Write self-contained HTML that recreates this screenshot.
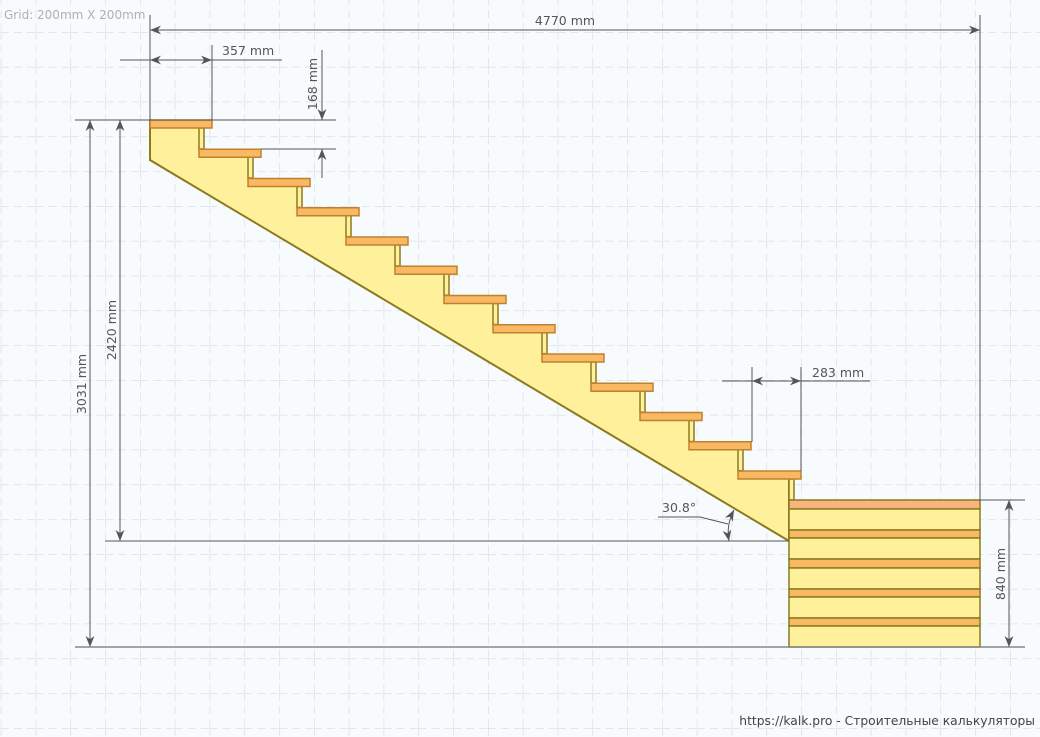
<!DOCTYPE html>
<html><head><meta charset="utf-8"><style>
html,body{margin:0;padding:0;background:#f7fbfe;}
svg{display:block;font-family:"DejaVu Sans","Liberation Sans",sans-serif;}
</style></head><body>
<svg width="1040" height="737" viewBox="0 0 1040 737" xmlns="http://www.w3.org/2000/svg">
<defs>
<pattern id="g" x="0.8" y="-2.8" width="34.8" height="34.8" patternUnits="userSpaceOnUse">
<path d="M0 0V34.8M0 0H34.8" stroke="#d4d9de" stroke-width="1.2" stroke-dasharray="8 5" fill="none"/>
</pattern>
<marker id="a" viewBox="0 0 10 10" refX="10" refY="5" markerWidth="11" markerHeight="11" markerUnits="userSpaceOnUse" orient="auto-start-reverse"><path d="M0 1 L10 5 L0 9 L3 5 Z" fill="#555"/></marker>
</defs>
<rect width="1040" height="737" fill="#f7fbfe"/>
<rect width="1040" height="737" fill="url(#g)"/>
<text x="4" y="19" font-size="12" fill="#b0b0b0">Grid: 200mm X 200mm</text>

<polygon fill="#fff09c" points="150,120 199,120 199,149.25 248,149.25 248,178.5 297,178.5 297,207.75 346,207.75 346,237 395,237 395,266.25 444,266.25 444,295.5 493,295.5 493,324.75 542,324.75 542,354 591,354 591,383.25 640,383.25 640,412.5 689,412.5 689,441.75 738,441.75 738,471 789,471 789,541 150,160"/>
<polyline fill="none" stroke="#8c7a1e" stroke-width="2" points="150,120 150,160 789,541 789,479"/>

<g fill="#fff09c" stroke="#8c7a1e" stroke-width="1.5">
<rect x="199" y="128" width="5" height="21"/>
<rect x="248" y="157" width="5" height="21"/>
<rect x="297" y="186.5" width="5" height="21"/>
<rect x="346" y="215.7" width="5" height="21"/>
<rect x="395" y="245" width="5" height="21"/>
<rect x="444" y="274.2" width="5" height="21"/>
<rect x="493" y="303.5" width="5" height="21"/>
<rect x="542" y="332.7" width="5" height="21"/>
<rect x="591" y="362" width="5" height="21"/>
<rect x="640" y="391.2" width="5" height="21"/>
<rect x="689" y="420.5" width="5" height="21"/>
<rect x="738" y="449.7" width="5" height="21"/>
<rect x="789" y="479" width="5" height="21"/>
</g>
<g fill="#f9b862" stroke="#c0812e" stroke-width="1.5">
<rect x="150" y="120" width="62" height="8"/>
<rect x="199" y="149.25" width="62" height="8"/>
<rect x="248" y="178.5" width="62" height="8"/>
<rect x="297" y="207.75" width="62" height="8"/>
<rect x="346" y="237" width="62" height="8"/>
<rect x="395" y="266.25" width="62" height="8"/>
<rect x="444" y="295.5" width="62" height="8"/>
<rect x="493" y="324.75" width="62" height="8"/>
<rect x="542" y="354" width="62" height="8"/>
<rect x="591" y="383.25" width="62" height="8"/>
<rect x="640" y="412.5" width="62" height="8"/>
<rect x="689" y="441.75" width="62" height="8"/>
<rect x="738" y="471" width="63" height="8"/>
</g>

<g stroke="#8c7a1e" stroke-width="1.5">
<rect x="789" y="500" width="191" height="9" fill="#f9b47e"/>
<rect x="789" y="509" width="191" height="21" fill="#fff09c"/>
<rect x="789" y="530" width="191" height="8" fill="#f9b862"/>
<rect x="789" y="538" width="191" height="21" fill="#fff09c"/>
<rect x="789" y="559" width="191" height="9" fill="#f9b862"/>
<rect x="789" y="568" width="191" height="21" fill="#fff09c"/>
<rect x="789" y="589" width="191" height="8" fill="#f9b862"/>
<rect x="789" y="597" width="191" height="21" fill="#fff09c"/>
<rect x="789" y="618" width="191" height="8" fill="#f9b862"/>
<rect x="789" y="626" width="191" height="21" fill="#fff09c"/>
</g>

<g stroke="#555" stroke-width="1" fill="none">
<line x1="150" y1="15" x2="150" y2="120"/>
<line x1="980" y1="15" x2="980" y2="500"/>
<line x1="150" y1="30" x2="980" y2="30" marker-start="url(#a)" marker-end="url(#a)"/>
<line x1="212" y1="45" x2="212" y2="120"/>
<line x1="120" y1="60" x2="150" y2="60"/>
<line x1="212" y1="60" x2="282" y2="60"/>
<line x1="150" y1="60" x2="212" y2="60" marker-start="url(#a)" marker-end="url(#a)"/>
<line x1="75" y1="120" x2="336" y2="120"/>
<line x1="261" y1="149" x2="336" y2="149"/>
<line x1="322" y1="50" x2="322" y2="120" marker-end="url(#a)"/>
<line x1="322" y1="178" x2="322" y2="149" marker-end="url(#a)"/>
<line x1="752" y1="367" x2="752" y2="442"/>
<line x1="801" y1="367" x2="801" y2="471"/>
<line x1="722" y1="381" x2="752" y2="381"/>
<line x1="801" y1="381" x2="870" y2="381"/>
<line x1="752" y1="381" x2="801" y2="381" marker-start="url(#a)" marker-end="url(#a)"/>
<line x1="90" y1="120" x2="90" y2="647" marker-start="url(#a)" marker-end="url(#a)"/>
<line x1="120" y1="120" x2="120" y2="541" marker-start="url(#a)" marker-end="url(#a)"/>
<line x1="105" y1="541" x2="789" y2="541"/>
<line x1="75" y1="647" x2="1025" y2="647" stroke="#888" stroke-width="1.5"/>
<line x1="980" y1="500" x2="1025" y2="500"/>
<line x1="1009" y1="500" x2="1009" y2="647" marker-start="url(#a)" marker-end="url(#a)"/>
<polyline points="658,517 700,517 728,524"/>
<path d="M734 510 Q726 525 729 541" marker-start="url(#a)" marker-end="url(#a)"/>
</g>
<g font-size="12.5" fill="#555">
<text x="565" y="25" text-anchor="middle">4770 mm</text>
<text x="222" y="55">357 mm</text>
<text x="812" y="377">283 mm</text>
<text x="662" y="512">30.8°</text>
<text transform="translate(317,84) rotate(-90)" text-anchor="middle">168 mm</text>
<text transform="translate(86,384) rotate(-90)" text-anchor="middle">3031 mm</text>
<text transform="translate(116,330) rotate(-90)" text-anchor="middle">2420 mm</text>
<text transform="translate(1005,574) rotate(-90)" text-anchor="middle">840 mm</text>
</g>
<text x="1035" y="725" font-size="12.3" fill="#444" text-anchor="end">https://kalk.pro - Строительные калькуляторы</text>
</svg>
</body></html>
